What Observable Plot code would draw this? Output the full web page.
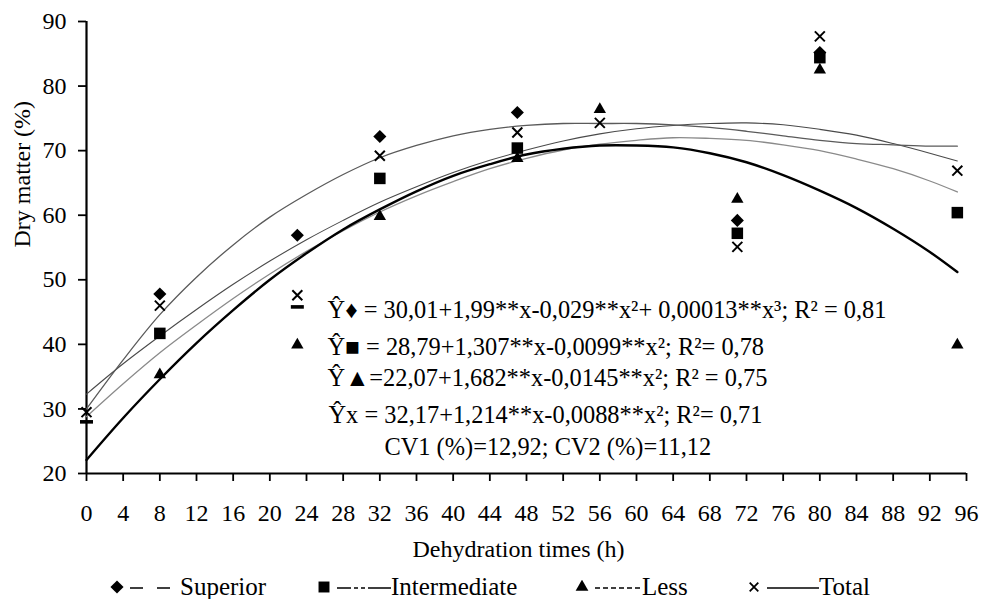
<!DOCTYPE html>
<html>
<head>
<meta charset="utf-8">
<script src="https://cdn.jsdelivr.net/npm/d3@7"></script>
<script src="https://cdn.jsdelivr.net/npm/@observablehq/plot@0.6"></script>
<style>
  html, body { margin: 0; padding: 0; background: #fff; overflow: hidden; }
  body { width: 981px; height: 599px; font-family: "Liberation Serif", "Times New Roman", serif; }
  #chart svg { display: block; font-family: "Liberation Serif", "Times New Roman", serif !important; }
  #chart svg text { font-family: "Liberation Serif", "Times New Roman", serif !important; }
  #legend { position: relative; width: 981px; height: 38px; font-size: 25px; color: #000; font-family: "Liberation Serif", serif; }
  .item { position: absolute; top: 0; height: 38px; display: flex; align-items: center; }
  .item svg { display: block; }
</style>
</head>
<body>
<div id="chart"></div>
<div id="legend"></div>
<script>
// ---- observed means (points) ----
const hours        = [0, 8, 23, 32, 47, 56, 71, 80, 95];
const superior     = [null, 47.8, 56.9, 72.2, 75.9, null, 59.2, 85.2, null];
const intermediate = [28.0, 41.7, 45.8, 65.7, 70.4, null, 57.2, 84.4, 60.4];
const less         = [null, 35.3, 39.9, 59.8, 68.8, 76.4, 62.5, 82.5, 39.9];
const total        = [29.5, 46.0, 47.6, 69.2, 72.8, 74.3, 55.1, 87.7, 66.9];
// hours where the intermediate marker shows only as a dash
const intermediateDashAt = [0, 23];

// ---- fitted curves ----
const fitHours        = [0, 4, 8, 12, 16, 20, 24, 28, 32, 36, 40, 44, 48, 52, 56, 60, 64, 68, 72, 76, 80, 84, 88, 92, 95];
const fitSuperior     = [30.0, 37.6, 44.6, 50.4, 55.4, 59.7, 63.2, 66.3, 68.9, 70.8, 72.3, 73.3, 73.9, 74.2, 74.2, 74.2, 74.0, 73.6, 73.0, 72.3, 71.6, 71.1, 70.9, 70.7, 70.7];
const fitIntermediate = [28.8, 33.9, 38.7, 43.0, 47.1, 50.9, 54.4, 57.6, 60.5, 63.0, 65.2, 67.2, 68.8, 70.1, 71.0, 71.6, 72.0, 71.9, 71.6, 70.9, 70.0, 68.7, 67.2, 65.3, 63.6];
const fitLess         = [22.1, 28.6, 34.6, 40.2, 45.3, 50.0, 54.1, 57.8, 60.9, 63.7, 66.1, 67.9, 69.4, 70.3, 70.8, 70.8, 70.5, 69.6, 68.2, 66.2, 63.8, 61.1, 57.9, 54.3, 51.2];
const fitTotal        = [32.3, 37.0, 41.3, 45.4, 49.3, 52.9, 56.2, 59.2, 62.0, 64.4, 66.6, 68.5, 70.1, 71.5, 72.6, 73.4, 73.9, 74.2, 74.3, 74.0, 73.3, 72.4, 71.1, 69.6, 68.4];

// ---- axes ----
const xTicks = [0, 4, 8, 12, 16, 20, 24, 28, 32, 36, 40, 44, 48, 52, 56, 60, 64, 68, 72, 76, 80, 84, 88, 92, 96];
const yTicks = [20, 30, 40, 50, 60, 70, 80, 90];
const xLabel = "Dehydration times (h)";
const yLabel = "Dry matter (%)";

// ---- regression annotation ----
const eqText = [
  "Ŷ♦ = 30,01+1,99**x-0,029**x²+ 0,00013**x³; R² = 0,81",
  "Ŷ■ = 28,79+1,307**x-0,0099**x²; R²= 0,78",
  "Ŷ▲=22,07+1,682**x-0,0145**x²; R² = 0,75",
  "Ŷx = 32,17+1,214**x-0,0088**x²; R²= 0,71",
  "CV1 (%)=12,92; CV2 (%)=11,12"
];
const eqX = [26.3, 26.3, 26.3, 26.4, 32.5];
const eqY = [45.3, 39.6, 34.8, 29.0, 24.0];

// ---- legend ----
const legendNames = ["Superior", "Intermediate", "Less", "Total"];

const idx = d3.range(hours.length);
const fidx = d3.range(fitHours.length);
const valid = arr => idx.filter(i => arr[i] != null);

const dashSymbol = { draw(ctx) { ctx.rect(-6.5, -1.8, 13, 3.6); } };
const FONT = "Liberation Serif";

const plot = Plot.plot({
  width: 981,
  height: 568,
  marginLeft: 86,
  marginRight: 15,
  marginTop: 21,
  marginBottom: 95,
  style: { fontFamily: FONT, fontSize: "24px", color: "#000", background: "#fff", overflow: "visible" },
  x: { domain: [0, 96] },
  y: { domain: [20, 90] },
  marks: [
    Plot.axisX({ ticks: xTicks, tickSize: 8, tickPadding: 22, strokeWidth: 1.8, tickFormat: d => String(d), label: null, fontSize: 24, fontFamily: FONT }),
    Plot.axisY({ ticks: yTicks, tickSize: 8, tickPadding: 12, strokeWidth: 1.8, tickFormat: d => String(d), label: null, fontSize: 24, fontFamily: FONT }),
    Plot.ruleX([0], { stroke: "#000", strokeWidth: 2.2 }),
    Plot.ruleY([20], { stroke: "#000", strokeWidth: 2.2 }),
    // fitted curves
    Plot.line(fidx, { x: i => fitHours[i], y: i => fitTotal[i], stroke: "#4a4a4a", strokeWidth: 1.1, curve: "catmull-rom" }),
    Plot.line(fidx, { x: i => fitHours[i], y: i => fitSuperior[i], stroke: "#5a5a5a", strokeWidth: 1.3, curve: "catmull-rom" }),
    Plot.line(fidx, { x: i => fitHours[i], y: i => fitIntermediate[i], stroke: "#8a8a8a", strokeWidth: 1.3, curve: "catmull-rom" }),
    Plot.line(fidx, { x: i => fitHours[i], y: i => fitLess[i], stroke: "#000", strokeWidth: 2.4, curve: "catmull-rom" }),
    // points
    Plot.dot(valid(superior), { x: i => hours[i], y: i => superior[i], symbol: "diamond2", r: 5.9, fill: "#000", stroke: "none" }),
    Plot.dot(valid(intermediate).filter(i => !intermediateDashAt.includes(hours[i])), { x: i => hours[i], y: i => intermediate[i], symbol: "square", r: 6.5, fill: "#000", stroke: "none" }),
    Plot.dot(valid(intermediate).filter(i => intermediateDashAt.includes(hours[i])), { x: i => hours[i], y: i => intermediate[i], symbol: dashSymbol, fill: "#000", stroke: "none" }),
    Plot.dot(valid(less), { x: i => hours[i], y: i => less[i], symbol: "triangle", r: 4.6, fill: "#000", stroke: "none" }),
    Plot.dot(valid(total), { x: i => hours[i], y: i => total[i], symbol: "times", r: 4.6, stroke: "#000", strokeWidth: 2, fill: "none" }),
    // regression annotation
    Plot.text(d3.range(eqText.length), { x: i => eqX[i], y: i => eqY[i], text: i => eqText[i], textAnchor: "start", fontSize: 24.4, fontFamily: FONT, fill: "#000" }),
    // axis titles
    Plot.text([xLabel], { frameAnchor: "bottom", dy: 83, dx: -8, text: d => d, fontSize: 24, fontFamily: FONT, fill: "#000" }),
    Plot.text([yLabel], { frameAnchor: "left", dx: -64, rotate: -90, text: d => d, fontSize: 24, fontFamily: FONT, fill: "#000" })
  ]
});
document.getElementById("chart").appendChild(plot);

// ---- legend (below the svg) ----
const legend = d3.select("#legend");
const legendLeft = [110, 317, 575, 747];
const sampleWidth = [40, 54, 47, 52];
const sampleDash = ["13,14", "14,3,4,3,4,3,23", "5,3", null];
const markerPath = [
  d3.symbol(d3.symbolDiamond2, 110)(),
  d3.symbol(d3.symbolSquare, 120)(),
  d3.symbol(d3.symbolTriangle, 70)(),
  d3.symbol(d3.symbolTimes, 50)()
];
legendNames.forEach((name, k) => {
  const item = legend.append("div").attr("class", "item").style("left", legendLeft[k] + "px");
  const m = item.append("svg").attr("width", 14).attr("height", 14);
  const p = m.append("path").attr("transform", "translate(7,7)").attr("d", markerPath[k]);
  if (k === 3) p.attr("fill", "none").attr("stroke", "#000").attr("stroke-width", 1.8);
  else p.attr("fill", "#000");
  const s = item.append("svg").attr("width", sampleWidth[k]).attr("height", 14).style("margin-left", "6px");
  const l = s.append("line").attr("x1", 0).attr("x2", sampleWidth[k]).attr("y1", 8).attr("y2", 8)
    .attr("stroke", "#000").attr("stroke-width", 1.3);
  if (sampleDash[k]) l.attr("stroke-dasharray", sampleDash[k]);
  item.append("span").text(name).style("margin-left", k === 0 ? "10px" : "0px");
});
</script>
</body>
</html>
